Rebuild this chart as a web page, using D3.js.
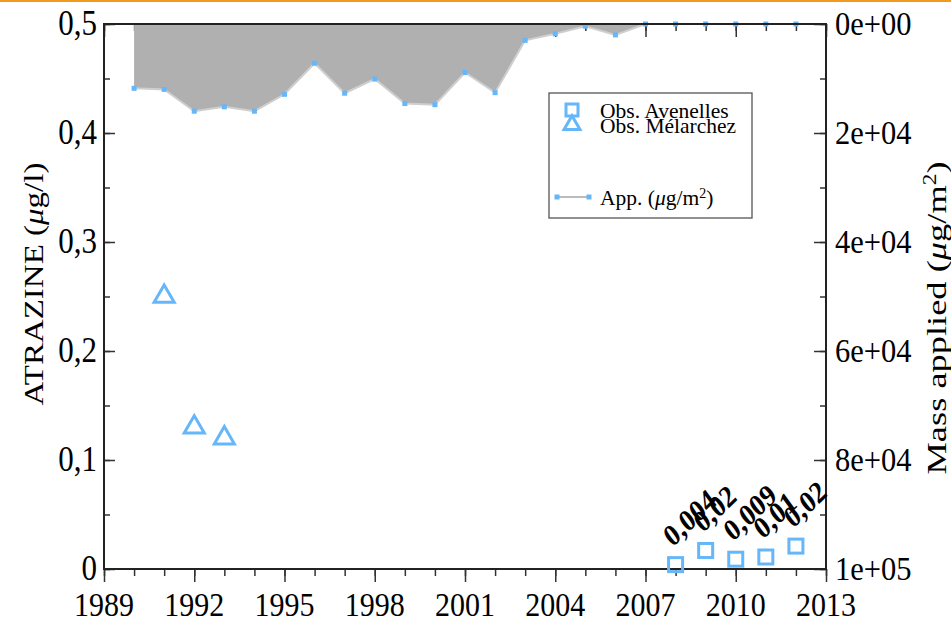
<!DOCTYPE html>
<html lang="en">
<head>
<meta charset="UTF-8">
<title>Atrazine</title>
<script src="https://d3js.org/d3.v7.min.js"></script>
<style>
    body { margin: 0; background: #fff; }
    svg { display: block; font-family: "Liberation Serif", "Times New Roman", serif; }
    .tick line { stroke: #333; stroke-width: 1.5px; }
</style>
</head>
<body>
<div id="chart"></div>
<script>
// mass applied per year (ug/m2), right axis (reversed)
var appYears = [1990, 1991, 1992, 1993, 1994, 1995, 1996, 1997, 1998, 1999, 2000, 2001,
                2002, 2003, 2004, 2005, 2006, 2007, 2008, 2009, 2010, 2011, 2012];
var appMass = [11800, 12000, 16000, 15200, 16000, 12900, 7200, 12700, 10100, 14600, 14800, 8900,
               12600, 3000, 1800, 400, 2000, 0, 0, 0, 0, 0, 0];

// observed concentrations (ug/l)
var avenellesYears = [2008, 2009, 2010, 2011, 2012];
var avenellesConc = [0.004, 0.017, 0.009, 0.011, 0.021];
var avenellesLabels = ["0,004", "0,02", "0,009", "0,01", "0,02"];

var melarchezYears = [1991, 1992, 1993];
var melarchezConc = [0.25, 0.13, 0.12];

var xTicks = [1989, 1992, 1995, 1998, 2001, 2004, 2007, 2010, 2013];
var yTicks = [0, 0.1, 0.2, 0.3, 0.4, 0.5];
var yTickLabels = ["0", "0,1", "0,2", "0,3", "0,4", "0,5"];
var y2Ticks = [0, 20000, 40000, 60000, 80000, 100000];
var y2TickLabels = ["0e+00", "2e+04", "4e+04", "6e+04", "8e+04", "1e+05"];

var W = 951, H = 620;
var pL = 104, pR = 826, pT = 24, pB = 569;
var blue = "#66b6fa";

var svg = d3.select("#chart").append("svg")
    .attr("width", W)
    .attr("height", H);

// orange strip on top
svg.append("rect").attr("x", 0).attr("y", 0).attr("width", W).attr("height", 2)
    .attr("fill", "#f39a1e");

var x = d3.scaleLinear().domain([1989, 2013]).range([pL, pR]);
var y = d3.scaleLinear().domain([0, 0.5]).range([pB, pT]);
var y2 = d3.scaleLinear().domain([0, 100000]).range([pT, pB]);

var minorYears = d3.range(1989, 2014);
var minorY = d3.range(0, 0.51, 0.05);
var minorY2 = d3.range(0, 100001, 10000);

function noDomain(g) { g.select(".domain").remove(); }

// ticks
svg.append("g").attr("transform", "translate(0," + pB + ")")
    .call(d3.axisBottom(x).tickValues(minorYears).tickSize(7).tickFormat("")).call(noDomain);
svg.append("g").attr("transform", "translate(0," + pB + ")")
    .call(d3.axisBottom(x).tickValues(xTicks).tickSize(13).tickFormat("")).call(noDomain);
svg.append("g").attr("transform", "translate(0," + pT + ")")
    .call(d3.axisTop(x).tickValues(minorYears).tickSize(-7).tickFormat("")).call(noDomain);
svg.append("g").attr("transform", "translate(0," + pT + ")")
    .call(d3.axisTop(x).tickValues(xTicks).tickSize(-13).tickFormat("")).call(noDomain);
svg.append("g").attr("transform", "translate(" + pL + ",0)")
    .call(d3.axisLeft(y).tickValues(minorY).tickSize(-6).tickFormat("")).call(noDomain);
svg.append("g").attr("transform", "translate(" + pL + ",0)")
    .call(d3.axisLeft(y).tickValues(yTicks).tickSize(-11).tickFormat("")).call(noDomain);
svg.append("g").attr("transform", "translate(" + pR + ",0)")
    .call(d3.axisRight(y2).tickValues(minorY2).tickSize(-6).tickFormat("")).call(noDomain);
svg.append("g").attr("transform", "translate(" + pR + ",0)")
    .call(d3.axisRight(y2).tickValues(y2Ticks).tickSize(-12).tickFormat("")).call(noDomain);

// tick labels (slightly stretched vertically like the original)
var sy = 1.13;
svg.append("g").selectAll("text").data(xTicks).join("text")
    .attr("transform", function (d) { return "translate(" + x(d) + ",616) scale(1," + sy + ")"; })
    .attr("text-anchor", "middle")
    .attr("font-size", 30)
    .text(function (d) { return d; });
svg.append("g").selectAll("text").data(yTicks).join("text")
    .attr("transform", function (d) { return "translate(97," + (y(d) + 11) + ") scale(1," + sy + ")"; })
    .attr("text-anchor", "end")
    .attr("font-size", 31)
    .text(function (d, i) { return yTickLabels[i]; });
svg.append("g").selectAll("text").data(y2Ticks).join("text")
    .attr("transform", function (d) { return "translate(835," + (y2(d) + 11) + ") scale(1," + sy + ")"; })
    .attr("font-size", 30.5)
    .text(function (d, i) { return y2TickLabels[i]; });

// axis titles
var t1 = svg.append("text")
    .attr("transform", "translate(43,284) scale(1,1.2) rotate(-90)")
    .attr("text-anchor", "middle")
    .attr("font-size", 27.5);
t1.append("tspan").text("ATRAZINE (");
t1.append("tspan").attr("font-style", "italic").text("\u03bc");
t1.append("tspan").text("g/l)");

var t2 = svg.append("text")
    .attr("transform", "translate(946,318) scale(1,1.3) rotate(-90)")
    .attr("text-anchor", "middle")
    .attr("font-size", 28);
t2.append("tspan").text("Mass applied (");
t2.append("tspan").attr("font-style", "italic").text("\u03bc");
t2.append("tspan").text("g/m");
t2.append("tspan").attr("font-size", 18).attr("dy", -10).text("2");
t2.append("tspan").attr("dy", 10).text(")");

// applied mass area (hangs from the top)
var area = d3.area()
    .x(function (d, i) { return x(appYears[i]); })
    .y0(y2(0))
    .y1(function (d) { return y2(d); });
svg.append("path").datum(appMass)
    .attr("d", area)
    .attr("fill", "#b0b0b0");

var line = d3.line()
    .x(function (d, i) { return x(appYears[i]); })
    .y(function (d) { return y2(d); });
svg.append("path").datum(appMass)
    .attr("d", line)
    .attr("fill", "none")
    .attr("stroke", "#cfcfcf")
    .attr("stroke-width", 2);

svg.append("g").selectAll("rect").data(appMass).join("rect")
    .attr("x", function (d, i) { return x(appYears[i]) - 2.5; })
    .attr("y", function (d) { return y2(d) - 2.5; })
    .attr("width", 5).attr("height", 5)
    .attr("fill", blue);

// frame
svg.append("rect")
    .attr("x", pL).attr("y", pT)
    .attr("width", pR - pL).attr("height", pB - pT)
    .attr("fill", "none")
    .attr("stroke", "#222")
    .attr("stroke-width", 2);

// observations
svg.append("g").selectAll("rect").data(avenellesConc).join("rect")
    .attr("x", function (d, i) { return x(avenellesYears[i]) - 7; })
    .attr("y", function (d) { return y(d) - 7; })
    .attr("width", 14).attr("height", 14)
    .attr("fill", "none")
    .attr("stroke", blue)
    .attr("stroke-width", 3);

var tri = d3.symbol().type(d3.symbolTriangle).size(175);
svg.append("g").selectAll("path").data(melarchezConc).join("path")
    .attr("transform", function (d, i) { return "translate(" + x(melarchezYears[i]) + "," + y(d) + ")"; })
    .attr("d", tri)
    .attr("fill", "none")
    .attr("stroke", blue)
    .attr("stroke-width", 3);

// value labels
svg.append("g").selectAll("text").data(avenellesConc).join("text")
    .attr("transform", function (d, i) {
        return "translate(" + (x(avenellesYears[i]) - 3) + "," + (y(d) - 17) + ") scale(1,1.15) rotate(-40)";
    })
    .attr("font-size", 26.5)
    .attr("font-weight", "bold")
    .text(function (d, i) { return avenellesLabels[i]; });

// legend
var lg = svg.append("g");
lg.append("rect")
    .attr("x", 549).attr("y", 93).attr("width", 203).attr("height", 125)
    .attr("fill", "#fff").attr("stroke", "#555").attr("stroke-width", 1.3);
lg.append("rect")
    .attr("x", 566).attr("y", 104).attr("width", 12).attr("height", 12)
    .attr("fill", "none").attr("stroke", blue).attr("stroke-width", 3);
lg.append("path")
    .attr("transform", "translate(572,125)")
    .attr("d", d3.symbol().type(d3.symbolTriangle).size(110))
    .attr("fill", "none").attr("stroke", blue).attr("stroke-width", 3);
lg.append("text").attr("x", 600).attr("y", 118).attr("font-size", 21.5).text("Obs. Avenelles");
lg.append("text").attr("x", 600).attr("y", 133).attr("font-size", 21.5).text("Obs. M\u00e9larchez");
lg.append("line")
    .attr("x1", 557).attr("x2", 589).attr("y1", 197).attr("y2", 197)
    .attr("stroke", "#bbb").attr("stroke-width", 2);
lg.selectAll(".lm").data([557, 589]).join("rect")
    .attr("x", function (d) { return d - 2.5; }).attr("y", 194.5)
    .attr("width", 5).attr("height", 5).attr("fill", blue);
var lt = lg.append("text").attr("x", 600).attr("y", 205).attr("font-size", 21.5);
lt.append("tspan").text("App. (");
lt.append("tspan").attr("font-style", "italic").text("\u03bc");
lt.append("tspan").text("g/m");
lt.append("tspan").attr("font-size", 14).attr("dy", -7).text("2");
lt.append("tspan").attr("dy", 7).text(")");
</script>
</body>
</html>
